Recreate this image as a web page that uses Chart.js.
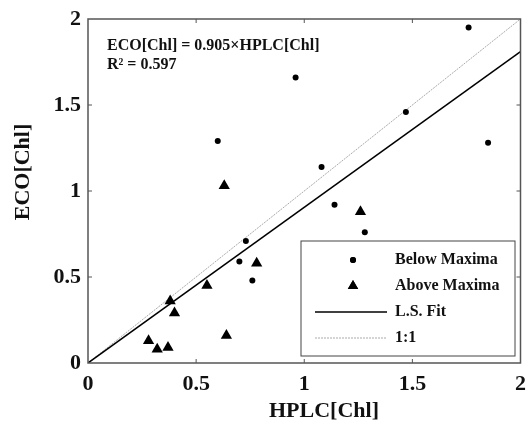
<!DOCTYPE html>
<html>
<head>
<meta charset="utf-8">
<script src="https://cdn.jsdelivr.net/npm/chart.js@4"></script>
<style>
  html, body { margin: 0; padding: 0; background: #fff; }
  #wrap { width: 527px; height: 426px; }
</style>
</head>
<body>
<div id="wrap"><canvas id="grafico" width="527" height="426"></canvas></div>
<script>
// valores
const belowX = [0.60, 0.96, 1.76, 1.47, 1.08, 1.85, 1.14, 1.28, 0.73, 0.70, 0.76];
const belowY = [1.29, 1.66, 1.95, 1.46, 1.14, 1.28, 0.92, 0.76, 0.71, 0.59, 0.48];
const aboveX = [0.63, 1.26, 0.78, 0.55, 0.38, 0.40, 0.28, 0.32, 0.37, 0.64];
const aboveY = [1.03, 0.88, 0.58, 0.45, 0.36, 0.29, 0.13, 0.08, 0.09, 0.16];
const fitSlope = 0.905;
const fitR2 = 0.597;
const lineX = [0, 2];
const tickValues = [0, 0.5, 1, 1.5, 2];

const fonte = "'Liberation Serif', 'Times New Roman', serif";

function pontos(xs, ys) {
    return xs.map((x, i) => ({ x: x, y: ys[i] }));
}

// moldura, ticks internos, títulos e anotação
const molduraPlugin = {
    id: "moldura",
    afterDraw(chart) {
        const ctx = chart.ctx;
        const a = chart.chartArea;
        const sx = chart.scales.x;
        const sy = chart.scales.y;

        ctx.save();
        ctx.strokeStyle = "#555";
        ctx.lineWidth = 1.5;
        ctx.strokeRect(a.left, a.top, a.right - a.left, a.bottom - a.top);

        ctx.lineWidth = 1;
        tickValues.slice(1, -1).forEach(v => {
            const px = sx.getPixelForValue(v);
            const py = sy.getPixelForValue(v);
            ctx.beginPath();
            ctx.moveTo(px, a.bottom); ctx.lineTo(px, a.bottom - 4);
            ctx.moveTo(px, a.top); ctx.lineTo(px, a.top + 4);
            ctx.moveTo(a.left, py); ctx.lineTo(a.left + 4, py);
            ctx.moveTo(a.right, py); ctx.lineTo(a.right - 4, py);
            ctx.stroke();
        });

        ctx.fillStyle = "#111";
        ctx.font = "bold 22px " + fonte;
        ctx.textAlign = "center";
        ctx.textBaseline = "middle";
        ctx.fillText("HPLC[Chl]", 324, 411);

        ctx.save();
        ctx.translate(23, 172);
        ctx.rotate(-Math.PI / 2);
        ctx.fillText("ECO[Chl]", 0, 0);
        ctx.restore();

        ctx.font = "bold 16px " + fonte;
        ctx.textAlign = "left";
        ctx.fillText("ECO[Chl] = " + fitSlope.toFixed(3) + "×HPLC[Chl]", 107, 46);
        ctx.fillText("R² = " + fitR2.toFixed(3), 107, 65);

        desenharLegenda(chart, ctx);
        ctx.restore();
    }
};

function desenharLegenda(chart, ctx) {
    const box = { x: 301, y: 241, w: 214, h: 115 };
    ctx.fillStyle = "#fff";
    ctx.fillRect(box.x, box.y, box.w, box.h);
    ctx.strokeStyle = "#444";
    ctx.lineWidth = 1;
    ctx.strokeRect(box.x, box.y, box.w, box.h);

    const linhas = [
        { texto: "Below Maxima", tipo: "circle", r: 3 },
        { texto: "Above Maxima", tipo: "triangle", r: 6 },
        { texto: "L.S. Fit", tipo: "line", cor: "#000", dash: [], lw: 1.5 },
        { texto: "1:1", tipo: "line", cor: "#aaa", dash: [2, 1], lw: 1 }
    ];

    linhas.forEach((l, i) => {
        const y = 260 + i * 26;
        if (l.tipo === "line") {
            ctx.save();
            ctx.strokeStyle = l.cor;
            ctx.lineWidth = l.lw;
            ctx.setLineDash(l.dash);
            ctx.beginPath();
            ctx.moveTo(315, y);
            ctx.lineTo(387, y);
            ctx.stroke();
            ctx.restore();
        } else {
            ctx.fillStyle = "#000";
            ctx.strokeStyle = "#000";
            Chart.helpers.drawPoint(ctx, { pointStyle: l.tipo, radius: l.r, rotation: 0, borderWidth: 0 }, 353, y);
            ctx.fill();
        }
        ctx.fillStyle = "#111";
        ctx.font = "bold 16px " + fonte;
        ctx.textAlign = "left";
        ctx.textBaseline = "middle";
        ctx.fillText(l.texto, 395, y);
    });
}

const fonteTicks = { family: fonte, size: 22, weight: "bold" };

new Chart(document.getElementById("grafico"), {
    type: "scatter",
    data: {
        datasets: [
            {
                label: "1:1",
                data: pontos(lineX, lineX),
                showLine: true,
                borderColor: "#aaa",
                borderWidth: 1,
                borderDash: [2, 1],
                pointRadius: 0,
                order: 4
            },
            {
                label: "L.S. Fit",
                data: pontos(lineX, lineX.map(x => fitSlope * x)),
                showLine: true,
                borderColor: "#000",
                borderWidth: 1.5,
                pointRadius: 0,
                order: 3
            },
            {
                label: "Below Maxima",
                data: pontos(belowX, belowY),
                pointStyle: "circle",
                pointRadius: 3,
                backgroundColor: "#000",
                borderWidth: 0,
                order: 2
            },
            {
                label: "Above Maxima",
                data: pontos(aboveX, aboveY),
                pointStyle: "triangle",
                pointRadius: 6.5,
                backgroundColor: "#000",
                borderWidth: 0,
                order: 1
            }
        ]
    },
    options: {
        responsive: false,
        animation: false,
        layout: { padding: { left: 0, right: 6, top: 19, bottom: 0 } },
        plugins: {
            legend: { display: false },
            tooltip: { enabled: false }
        },
        scales: {
            x: {
                type: "linear",
                min: 0,
                max: 2,
                afterBuildTicks: s => { s.ticks = tickValues.map(v => ({ value: v })); },
                afterFit: s => { s.height = 63; s.paddingLeft = 0; s.paddingRight = 0; },
                grid: { display: false, drawTicks: false },
                border: { display: false },
                ticks: {
                    padding: 8,
                    color: "#111",
                    font: fonteTicks,
                    callback: v => String(v)
                }
            },
            y: {
                type: "linear",
                min: 0,
                max: 2,
                afterBuildTicks: s => { s.ticks = tickValues.map(v => ({ value: v })); },
                afterFit: s => { s.width = 88; s.paddingTop = 0; s.paddingBottom = 0; },
                grid: { display: false, drawTicks: false },
                border: { display: false },
                ticks: {
                    padding: 7,
                    color: "#111",
                    font: fonteTicks,
                    callback: v => String(v)
                }
            }
        }
    },
    plugins: [molduraPlugin]
});
</script>
</body>
</html>
